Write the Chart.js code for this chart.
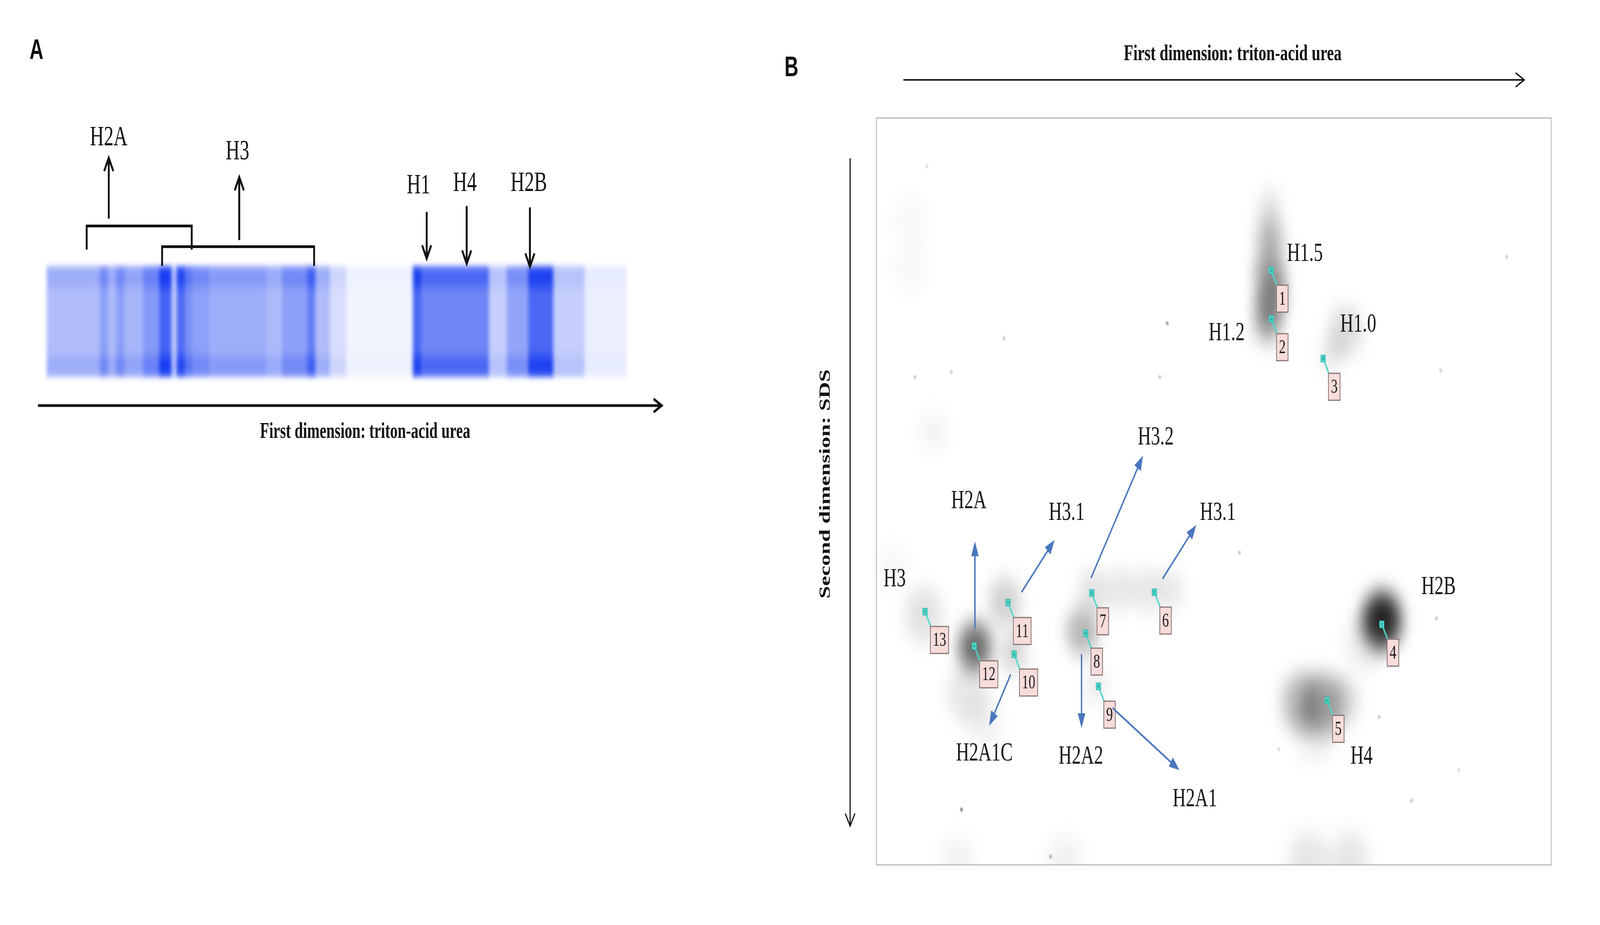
<!DOCTYPE html>
<html>
<head>
<meta charset="utf-8">
<title>Histone separation: triton-acid urea / SDS</title>
<script src="https://cdn.jsdelivr.net/npm/chart.js@4.4.1/dist/chart.umd.min.js"></script>
<style>
  html, body { margin: 0; padding: 0; background: #fff; overflow: hidden; }
  #stage { position: absolute; left: 0; top: 0; width: 5968px; height: 2368px; transform-origin: 0 0; background: #fff; }
  canvas { position: absolute; top: 0; }
  #strip { left: 0; width: 2700px; height: 1300px; }
  #gel { left: 2900px; width: 3068px; height: 2368px; }
  .panel { position: absolute; font: bold 72px "Liberation Sans", Arial, sans-serif; color: #111; line-height: 1; }
</style>
</head>
<body>
<div id="stage">
  <div class="panel" style="left:110px;top:90px">A</div>
  <div class="panel" style="left:2926px;top:134px">B</div>
  <canvas id="strip" width="2700" height="1300"></canvas>
  <canvas id="gel" width="3068" height="2368"></canvas>
</div>
<script>
// the figure is laid out on a 5968 x 2368 stage; fit it to whatever window we get
document.getElementById("stage").style.transform =
  "scale(" + (window.innerWidth / 5968) + "," + (window.innerHeight / 2368) + ")";

// ---------- panel A : one lane of the triton-acid urea gel ----------
// lane runs 0..100 (migration), stain 0..1 per stretch of the lane
const stripEdges = [0, 9.15, 10.5, 12.0, 13.4, 16.6, 19.4, 21.5, 22.4, 23.8, 25.0, 27.9, 37.8, 40.6, 44.9, 46.3, 48.8, 51.6, 63.1, 64.5, 76.2, 79.3, 83.0, 87.3, 92.7, 100];
const stripStain = [0.4, 0.58, 0.42, 0.58, 0.45, 0.62, 0.95, 0.3, 0.9, 0.68, 0.58, 0.5, 0.42, 0.58, 0.78, 0.4, 0.2, 0.07, 0.92, 0.74, 0.3, 0.55, 0.92, 0.3, 0.1];

// band names above the lane (lane units, lane height = 13.2)
const bandNames = ["H2A", "H3", "H1", "H4", "H2B"];
const bandLabelX = [10.7, 32.9, 64.1, 72.1, 83.1];
const bandLabelY = [31.4, 29.5, 24.9, 25.2, 25.2];
const pointerX = [10.7, 33.2, 65.5, 72.4, 83.3];
const pointerFrom = [20.5, 17.6, 21.4, 22.2, 22.0];
const pointerTo = [28.7, 26.1, 15.1, 14.4, 14.0];
// brackets grouping the H2A and H3 bands
const groupFrom = [6.9, 19.9];
const groupTo = [25.0, 46.1];
const groupTop = [19.5, 16.7];
const groupLeg = [16.3, 14.1];

// ---------- panel B : 2D gel (x = first dimension, y = second dimension) ----------
const spotIds = ["1", "2", "3", "4", "5", "6", "7", "8", "9", "10", "11", "12", "13"];
const spotX = [58.5, 58.5, 66.2, 74.9, 66.8, 41.2, 31.9, 31.0, 32.9, 20.4, 19.5, 14.5, 7.2];
const spotY = [20.4, 26.9, 32.2, 67.8, 78.0, 63.5, 63.6, 69.0, 76.1, 71.8, 64.9, 70.7, 66.1];

// stained protein (grey density), spread in gel units
const blobX = [58.3, 58.3, 58.3, 58.3, 58.0, 59.6, 69.5, 67.5,
  74.9, 74.9, 75.0, 72.5,
  63.0, 66.0, 69.0, 65.0,
  14.6, 14.6, 7.0, 19.0, 20.3, 13.5, 16.0,
  30.5, 32.0, 36.0, 40.0, 43.5, 32.5,
  64.0, 70.0, 28.0, 12.0, 5.0, 5.0, 8.5, 2.5];
const blobY = [12, 16, 20.5, 24.5, 27.5, 23, 28.5, 31.5,
  67.3, 67.3, 67.0, 70.0,
  78.3, 78.5, 78.0, 82.0,
  70.8, 70.8, 66.5, 64.8, 71.5, 77.0, 81.0,
  68.8, 63.5, 63.2, 63.2, 63.2, 76.0,
  99.5, 99.5, 99.5, 99.5, 14.0, 20.0, 42.0, 60.0];
const blobSpread = [1.6, 2.0, 2.2, 2.2, 2.0, 1.5, 2.5, 1.8,
  3.2, 2.2, 1.4, 3.0,
  3.0, 3.2, 2.5, 3.0,
  2.6, 1.6, 2.8, 2.4, 2.0, 3.0, 2.5,
  2.4, 2.2, 2.2, 2.2, 2.0, 1.8,
  3.0, 3.0, 2.5, 2.5, 2.5, 2.5, 2.0, 2.0];
const blobInk = [0.14, 0.3, 0.4, 0.45, 0.36, 0.14, 0.15, 0.1,
  0.5, 0.7, 0.8, 0.08,
  0.28, 0.32, 0.16, 0.08,
  0.45, 0.42, 0.12, 0.2, 0.18, 0.1, 0.06,
  0.3, 0.12, 0.1, 0.1, 0.1, 0.08,
  0.1, 0.1, 0.06, 0.05, 0.03, 0.03, 0.05, 0.04];

// dust specks on the gel
const speckX = [43.1, 18.9, 5.7, 11.1, 42.0, 83.6, 93.4, 53.8, 83.0, 74.5, 59.6, 86.3, 79.3, 12.6, 25.8, 7.5];
const speckY = [27.5, 29.5, 34.7, 34.0, 34.7, 33.8, 18.6, 58.2, 67.0, 80.2, 84.5, 87.3, 91.4, 92.6, 98.9, 6.5];
const speckInk = [0.5, 0.3, 0.3, 0.25, 0.3, 0.25, 0.25, 0.3, 0.3, 0.3, 0.2, 0.2, 0.3, 0.65, 0.4, 0.2];

// names written on the gel
const tagNames = ["H1.5", "H1.2", "H1.0", "H3.2", "H2A", "H3.1", "H3.1", "H3", "H2B", "H4", "H2A1C", "H2A2", "H2A1"];
const tagX = [63.5, 51.9, 71.4, 41.4, 13.7, 28.2, 50.6, 2.7, 83.3, 71.9, 16.0, 30.3, 47.2];
const tagY = [18.2, 28.8, 27.7, 42.8, 51.3, 52.9, 52.9, 61.8, 62.8, 85.5, 85.1, 85.5, 91.2];

// blue arrows from spots to names
const linkFromX = [14.6, 21.5, 31.8, 42.4, 19.9, 30.4, 35.0];
const linkFromY = [68.4, 63.5, 61.6, 61.7, 74.5, 71.8, 79.0];
const linkToX = [14.6, 26.4, 39.5, 47.4, 16.7, 30.4, 44.9];
const linkToY = [56.7, 56.5, 45.2, 54.5, 81.4, 81.7, 87.3];

function stain(t) {
  return "rgb(" + Math.round(255 - 245 * t) + "," + Math.round(255 - 205 * t) + "," + Math.round(255 - 15 * t) + ")";
}

function arrow(ctx, x1, y1, x2, y2, o) {
  const ang = Math.atan2(y2 - y1, x2 - x1);
  const c = Math.cos(ang), s = Math.sin(ang);
  const bx = x2 - o.head * c, by = y2 - o.head * s;
  ctx.save();
  ctx.strokeStyle = o.color;
  ctx.fillStyle = o.color;
  ctx.lineWidth = o.width;
  ctx.lineJoin = "miter";
  ctx.beginPath();
  ctx.moveTo(x1, y1);
  if (o.filled) ctx.lineTo(bx + c * 2, by + s * 2);
  else ctx.lineTo(x2 - c * o.width * 0.6, y2 - s * o.width * 0.6);
  ctx.stroke();
  ctx.beginPath();
  ctx.moveTo(bx - s * o.half, by + c * o.half);
  ctx.lineTo(x2, y2);
  ctx.lineTo(bx + s * o.half, by - c * o.half);
  if (o.filled) {
    ctx.closePath();
    ctx.fill();
  } else {
    ctx.stroke();
  }
  ctx.restore();
}

const stripLook = {
  id: "stripLook",
  afterDatasetsDraw(chart) {
    const { ctx, chartArea: a } = chart;
    const g = ctx.createLinearGradient(0, a.top, 0, a.bottom);
    [[0, 0.25], [0.07, 0], [0.13, 0], [0.25, 0.2], [0.75, 0.2], [0.87, 0], [0.93, 0], [1, 0.25]]
      .forEach(([st, al]) => g.addColorStop(st, "rgba(255,255,255," + al + ")"));
    ctx.save();
    ctx.fillStyle = g;
    ctx.fillRect(a.left, a.top, a.width, a.height);
    // soften the whole lane at once, so stretches melt together
    const pad = 24;
    const off = document.createElement("canvas");
    off.width = a.width + 2 * pad;
    off.height = a.height + 2 * pad;
    off.getContext("2d").drawImage(ctx.canvas, a.left - pad, a.top - pad, off.width, off.height, 0, 0, off.width, off.height);
    ctx.fillStyle = "#fff";
    ctx.fillRect(a.left - pad, a.top - pad, off.width, off.height);
    ctx.filter = "blur(7px)";
    ctx.drawImage(off, a.left - pad, a.top - pad);
    ctx.restore();
  }
};

const stripNotes = {
  id: "stripNotes",
  afterDraw(chart) {
    const ctx = chart.ctx;
    const x = v => chart.scales.x.getPixelForValue(v);
    const y = v => chart.scales.yA.getPixelForValue(v);
    ctx.save();
    ctx.strokeStyle = "#111";
    ctx.lineWidth = 7;
    ctx.lineJoin = "miter";
    groupFrom.forEach((g, i) => {
      ctx.beginPath();
      ctx.moveTo(x(g), y(groupLeg[i]));
      ctx.lineTo(x(g), y(groupTop[i]));
      ctx.lineTo(x(groupTo[i]), y(groupTop[i]));
      ctx.lineTo(x(groupTo[i]), y(groupLeg[i]));
      ctx.stroke();
    });
    ctx.font = '72px "Liberation Serif", "Times New Roman", serif';
    ctx.fillStyle = "#111";
    ctx.textAlign = "center";
    ctx.textBaseline = "middle";
    bandNames.forEach((n, i) => {
      arrow(ctx, x(pointerX[i]), y(pointerFrom[i]), x(pointerX[i]), y(pointerTo[i]),
        { color: "#111", width: 7, head: 34, half: 17 });
      ctx.fillText(n, x(bandLabelX[i]), y(bandLabelY[i]));
    });
    // direction of the first dimension
    arrow(ctx, x(-1.5), y(-4.75), x(106.0), y(-4.75), { color: "#111", width: 7, head: 30, half: 17 });
    ctx.font = 'bold 56px "Liberation Serif", "Times New Roman", serif';
    ctx.fillText("First dimension: triton-acid urea", x(54.9), y(-8.35));
    ctx.restore();
  }
};

new Chart(document.getElementById("strip"), {
  type: "bar",
  data: {
    labels: ["lane"],
    datasets: stripStain.map((t, i) => ({
      data: [[stripEdges[i], stripEdges[i + 1]]],
      backgroundColor: stain(t),
      borderWidth: 0,
      barPercentage: 1,
      categoryPercentage: 1,
      grouped: false
    }))
  },
  options: {
    indexAxis: "y",
    responsive: false,
    animation: false,
    devicePixelRatio: 1,
    events: [],
    layout: { padding: { left: 174, right: 362, top: 680, bottom: 334 } },
    scales: {
      x: { type: "linear", min: 0, max: 100, display: false },
      y: { display: false },
      yA: { type: "linear", axis: "y", min: 0, max: 13.2, display: false }
    },
    plugins: { legend: { display: false }, tooltip: { enabled: false } }
  },
  plugins: [stripLook, stripNotes]
});

// ---------- panel B ----------
function drawSpotTags(chart, meta) {
  const ctx = chart.ctx;
  ctx.save();
  ctx.font = '50px "Liberation Serif", "Times New Roman", serif';
  ctx.textAlign = "center";
  ctx.textBaseline = "middle";
  meta.data.forEach((pt, i) => {
    const bx = pt.x + 20, by = pt.y + 38;
    const w = ctx.measureText(spotIds[i]).width + 18, h = 69;
    ctx.strokeStyle = "#4fd6cb";
    ctx.lineWidth = 5;
    ctx.beginPath();
    ctx.moveTo(pt.x, pt.y);
    ctx.lineTo(bx + 3, by + 3);
    ctx.stroke();
    ctx.fillStyle = "#f8dcdc";
    ctx.fillRect(bx, by, w, h);
    ctx.strokeStyle = "#8c7676";
    ctx.lineWidth = 3;
    ctx.strokeRect(bx, by, w, h);
    ctx.fillStyle = "#1c1c1c";
    ctx.fillText(spotIds[i], bx + w / 2, by + h / 2 + 2);
  });
  ctx.restore();
}

const gelNotes = {
  id: "gelNotes",
  beforeDatasetDraw(chart, args) {
    const ds = chart.data.datasets[args.index];
    if (ds.blur) chart.ctx.filter = "blur(" + ds.blur + "px)";
    if (ds.tagged) drawSpotTags(chart, args.meta);
  },
  afterDatasetDraw(chart) {
    chart.ctx.filter = "none";
  },
  afterDraw(chart) {
    const { ctx, chartArea: a } = chart;
    const x = v => chart.scales.x.getPixelForValue(v);
    const y = v => chart.scales.y.getPixelForValue(v);
    ctx.save();
    ctx.strokeStyle = "#c6c6c6";
    ctx.lineWidth = 4;
    ctx.strokeRect(a.left, a.top, a.width, a.height);

    linkFromX.forEach((fx, i) => {
      arrow(ctx, x(fx), y(linkFromY[i]), x(linkToX[i]), y(linkToY[i]),
        { color: "#4a76bd", width: 5, head: 38, half: 14, filled: true });
    });

    ctx.fillStyle = "#151515";
    ctx.font = '68px "Liberation Serif", "Times New Roman", serif';
    ctx.textAlign = "center";
    ctx.textBaseline = "middle";
    tagNames.forEach((n, i) => ctx.fillText(n, x(tagX[i]), y(tagY[i])));

    // dimension arrows and titles
    arrow(ctx, x(4.0), y(-5.1), x(96.0), y(-5.1), { color: "#111", width: 4, head: 32, half: 18 });
    arrow(ctx, x(-3.9), y(5.4), x(-3.9), y(94.8), { color: "#111", width: 4, head: 32, half: 18 });
    ctx.font = 'bold 58px "Liberation Serif", "Times New Roman", serif';
    ctx.fillStyle = "#111";
    ctx.fillText("First dimension: triton-acid urea", x(52.8), y(-8.5));
    ctx.translate(x(-7.5), y(49.0));
    ctx.rotate(-Math.PI / 2);
    ctx.fillText("Second dimension: SDS", 0, 0);
    ctx.restore();
  }
};

// pixels per gel unit (layout may not be done when options are first read)
const unit = c => (c.chart.chartArea ? c.chart.chartArea.width : 2517) / 100;

new Chart(document.getElementById("gel"), {
  type: "scatter",
  data: {
    datasets: [
      {
        label: "stain",
        order: 3,
        blur: 26,
        data: blobX.map((v, i) => ({ x: v, y: blobY[i] })),
        pointRadius: c => blobSpread[c.dataIndex] * unit(c),
        pointBackgroundColor: c => "rgba(18,18,18," + blobInk[c.dataIndex] + ")",
        pointBorderWidth: 0
      },
      {
        label: "dust",
        order: 2,
        blur: 2,
        data: speckX.map((v, i) => ({ x: v, y: speckY[i] })),
        pointRadius: 5,
        pointBackgroundColor: c => "rgba(50,50,50," + speckInk[c.dataIndex] + ")",
        pointBorderWidth: 0
      },
      {
        label: "spots",
        order: 1,
        tagged: true,
        data: spotX.map((v, i) => ({ x: v, y: spotY[i] })),
        pointStyle: "rect",
        pointRadius: 12,
        pointBackgroundColor: "#55dccf",
        pointBorderColor: "#2fb3a8",
        pointBorderWidth: 2
      },
      {
        label: "spot centres",
        order: 0,
        data: spotX.map((v, i) => ({ x: v, y: spotY[i] })),
        pointStyle: "rect",
        pointRadius: 4,
        pointBackgroundColor: "rgba(0,0,0,0)",
        pointBorderColor: "#23857d",
        pointBorderWidth: 1.5
      }
    ]
  },
  options: {
    responsive: false,
    animation: false,
    devicePixelRatio: 1,
    events: [],
    layout: { padding: { left: 369, right: 182, top: 302, bottom: 154 } },
    scales: {
      x: { type: "linear", min: 0, max: 100, display: false },
      y: { type: "linear", min: 0, max: 100, reverse: true, display: false }
    },
    plugins: { legend: { display: false }, tooltip: { enabled: false } }
  },
  plugins: [gelNotes]
});
</script>
</body>
</html>
